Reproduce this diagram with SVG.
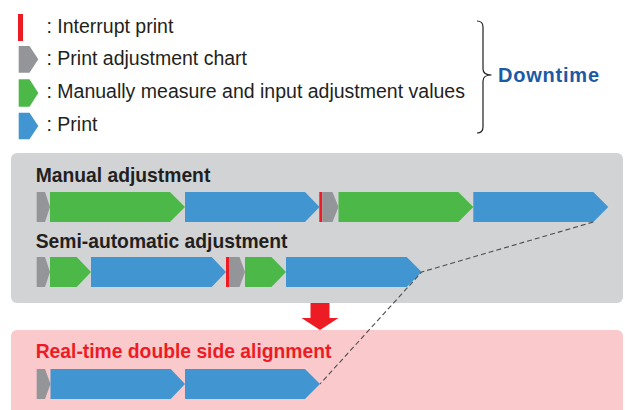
<svg xmlns="http://www.w3.org/2000/svg" width="625" height="410" viewBox="0 0 625 410">
<style>
.t{font-family:"Liberation Sans",Arial,sans-serif;fill:#231f20}
.leg{font-size:19.5px}
.h{font-size:19.3px;font-weight:bold}
.gr{fill:#939598}
.gn{fill:#4cb848}
.bl{fill:#4195d0}
.rd{fill:#ed1c24}
.dash{fill:none;stroke:#4d4d4f;stroke-width:1.1;stroke-dasharray:5 3}
</style>
<rect width="625" height="410" fill="#ffffff"/>
<g id="legend-interrupt">
<rect class="rd" x="18" y="14" width="5" height="27"/>
<text class="t leg" x="46.5" y="33.3">: Interrupt print</text>
</g>
<g id="legend-chart">
<polygon class="gr" points="18.7,46 29.5,46 38.3,59.3 29.5,72.7 18.7,72.7"/>
<text class="t leg" x="46.5" y="64.5">: Print adjustment chart</text>
</g>
<g id="legend-manual">
<polygon class="gn" points="18.7,79.3 29.5,79.3 38.3,93 29.5,106.7 18.7,106.7"/>
<text class="t leg" x="46.5" y="97.5">: Manually measure and input adjustment values</text>
</g>
<g id="legend-print">
<polygon class="bl" points="18.7,112.7 29.5,112.7 38.3,126 29.5,139.3 18.7,139.3"/>
<text class="t leg" x="46.5" y="130.8">: Print</text>
</g>
<g id="downtime">
<path d="M477,21 Q483,21 483,27 L483,69 Q483,75 491.5,75 Q483,75 483,81 L483,127 Q483,133 477,133" fill="none" stroke="#231f20" stroke-width="1.2"/>
<text x="498" y="82.3" font-family="Liberation Sans,Arial,sans-serif" font-size="20" font-weight="bold" fill="#1c5aa6" textLength="101">Downtime</text>
</g>
<g id="panel-current">
<rect x="11" y="153" width="612" height="150" rx="6" fill="#d1d3d4"/>
<text class="t h" x="35.7" y="181.7">Manual adjustment</text>
<g id="row-manual">
<polygon class="gr" points="36.7,192 45,192 50,207 45,222 36.7,222"/>
<polygon class="gn" points="50,192 170,192 185,207 170,222 50,222"/>
<polygon class="bl" points="185,192 305,192 319.5,207 305,222 185,222"/>
<rect class="rd" x="319.3" y="192" width="3" height="30"/>
<polygon class="gr" points="322.3,192 332.5,192 338.5,207 332.5,222 322.3,222"/>
<polygon class="gn" points="338.5,192 458.3,192 473.3,207 458.3,222 338.5,222"/>
<polygon class="bl" points="473.3,192 593.3,192 608.3,207 593.3,222 473.3,222"/>
</g>
<text class="t h" x="35.7" y="247.7">Semi-automatic adjustment</text>
<g id="row-semi">
<polygon class="gr" points="36.7,257 45,257 50,272 45,287 36.7,287"/>
<polygon class="gn" points="50,257 76.7,257 91,272 76.7,287 50,287"/>
<polygon class="bl" points="91,257 211.7,257 226,272 211.7,287 91,287"/>
<rect class="rd" x="226" y="257" width="3" height="30"/>
<polygon class="gr" points="229,257 239.5,257 245,272 239.5,287 229,287"/>
<polygon class="gn" points="245,257 271.5,257 286,272 271.5,287 245,287"/>
<polygon class="bl" points="286,257 406.7,257 421.7,272 406.7,287 286,287"/>
</g>
</g>
<g id="arrow-down">
<polygon class="rd" points="310.5,303 329.5,303 329.5,318 338.5,318 320,330 301.5,318 310.5,318"/>
</g>
<g id="panel-realtime">
<rect x="11" y="330" width="612" height="90" rx="6" fill="#f9c9cc"/>
<text x="35.7" y="358.3" font-family="Liberation Sans,Arial,sans-serif" font-size="19.3" font-weight="bold" fill="#ed1c24">Real-time double side alignment</text>
<g id="row-realtime">
<polygon class="gr" points="36.7,369 45,369 50.5,384 45,399 36.7,399"/>
<polygon class="bl" points="50.5,369 170.7,369 185,384 170.7,399 50.5,399"/>
<polygon class="bl" points="185,369 305,369 320,384 305,399 185,399"/>
</g>
</g>
<g id="connectors">
<polyline class="dash" points="593.3,222 421.7,272 320,384"/>
</g>
</svg>
